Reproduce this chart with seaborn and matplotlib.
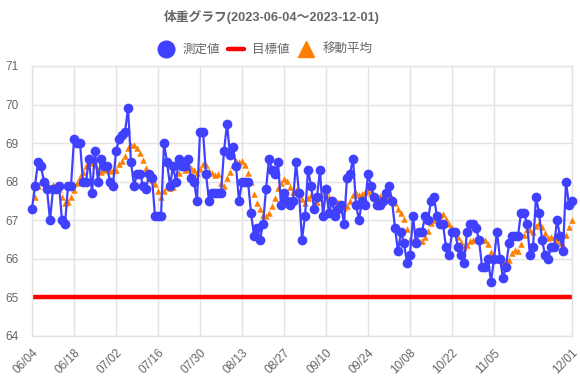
import pandas as pd
import seaborn as sns
import matplotlib.pyplot as plt
from matplotlib.lines import Line2D

start_date = '2023-06-04'
end_date = '2023-12-01'
weight = [
    67.3, 67.9, 68.5, 68.4, 68.0, 67.8, 67.0, 67.8, 67.8, 67.9,
    67.0, 66.9, 67.9, 67.9, 69.1, 69.0, 69.0, 68.0, 68.0, 68.6,
    67.7, 68.8, 68.0, 68.6, 68.4, 68.4, 68.0, 67.9, 68.8, 69.1,
    69.2, 69.3, 69.9, 68.5, 67.9, 68.2, 68.2, 67.9, 67.8, 68.2,
    68.1, 67.1, 67.1, 67.1, 69.0, 68.5, 67.9, 68.4, 68.0, 68.6,
    68.4, 68.4, 68.6, 68.1, 68.0, 67.5, 69.3, 69.3, 68.2, 67.5,
    67.7, 67.7, 67.7, 67.7, 68.8, 69.5, 68.7, 68.9, 68.4, 67.5,
    68.0, 68.0, 68.0, 67.2, 66.6, 66.8, 66.5, 66.9, 67.8, 68.6,
    68.3, 68.2, 68.5, 67.4, 67.7, 67.5, 67.4, 67.5, 68.5, 67.7,
    66.5, 67.1, 68.3, 67.9, 67.3, 67.6, 68.3, 67.1, 67.8, 67.2,
    67.5, 67.1, 67.3, 67.4, 66.9, 68.1, 68.2, 68.6, 67.4, 67.0,
    67.5, 67.4, 68.2, 67.9, 67.6, 67.4, 67.4, 67.5, 67.7, 67.9,
    67.5, 66.8, 66.2, 66.7, 66.4, 65.9, 66.1, 67.1, 66.4, 66.7,
    66.7, 67.1, 67.0, 67.5, 67.6, 67.1, 66.9, 66.9, 66.3, 66.1,
    66.7, 66.7, 66.3, 66.1, 65.9, 66.7, 66.9, 66.9, 66.8, 66.5,
    65.8, 65.8, 66.0, 65.4, 66.0, 66.7, 66.0, 65.5, 65.8, 66.4,
    66.6, 66.6, 66.6, 67.2, 67.2, 66.9, 66.1, 66.3, 67.6, 67.2,
    66.5, 66.1, 66.0, 66.3, 66.3, 67.0, 66.6, 66.2, 68.0, 67.4,
    67.5,
]
target_weight = 65.0
avg_window = 7
tick_labels = ['06/04', '06/18', '07/02', '07/16', '07/30', '08/13', '08/27',
               '09/10', '09/24', '10/08', '10/22', '11/05', '12/01']

dates = pd.date_range(start_date, end_date, freq='D')
df = pd.DataFrame({'date': dates, 'weight': weight})
df['avg'] = df['weight'].rolling(avg_window, min_periods=1).mean()

sns.set_theme(style='whitegrid')
plt.rcParams['font.family'] = ['Liberation Sans', 'Noto Sans CJK JP', 'DejaVu Sans']

blue = '#4040ff'
orange = '#ff8000'
red = '#ff0000'
gray = '#666666'
grid = '#e3e3e3'

fig = plt.figure(figsize=(5.8, 3.9), dpi=100)
ax = fig.add_axes([0.0552, 0.1385, 0.9310, 0.6923])

ax.axhline(target_weight, color=red, lw=3.2, zorder=2)
sns.scatterplot(data=df, x='date', y='avg', marker='^', s=22, color=orange,
                edgecolor=orange, linewidth=0, ax=ax, zorder=3, clip_on=False)
sns.lineplot(data=df, x='date', y='weight', color=blue, lw=1.6, marker='o',
             markersize=7, markeredgewidth=0, ax=ax, zorder=4, clip_on=False)

ax.set_xlim(dates[0], dates[-1])
ax.set_ylim(64, 71)
ax.set_yticks(range(64, 72))
ticks = pd.to_datetime(['2023-' + t.replace('/', '-') for t in tick_labels])
ax.set_xticks(ticks)
ax.set_xticklabels(tick_labels, rotation=45, ha='right', rotation_mode='anchor')
ax.set_xlabel('')
ax.set_ylabel('')
ax.grid(True, color=grid, lw=1)
for sp in ax.spines.values():
    sp.set_color(grid)
    sp.set_linewidth(1)
ax.tick_params(axis='both', colors=grid, labelcolor=gray, labelsize=8.5,
               length=7, width=1, pad=3)
ax.tick_params(axis='x', pad=1)

fig.text(272 / 580, 1 - 17 / 390, '体重グラフ(2023-06-04〜2023-12-01)',
         ha='center', va='center', fontsize=9.2, fontweight='bold', color=gray)

handles = [
    Line2D([], [], marker='o', color=blue, linestyle='none', markersize=12),
    Line2D([], [], color=red, lw=3.2),
    Line2D([], [], marker='^', color=orange, linestyle='none', markersize=11),
]
labels = ['測定値', '目標値', '移動平均']
leg = fig.legend(handles, labels, loc='center', bbox_to_anchor=(265 / 580, 1 - 50 / 390),
                 ncol=3, frameon=False, fontsize=9, handlelength=1.3,
                 handletextpad=0.7, columnspacing=0.6, borderaxespad=0)
for t in leg.get_texts():
    t.set_color(gray)

fig.savefig('out.png', dpi=100)
